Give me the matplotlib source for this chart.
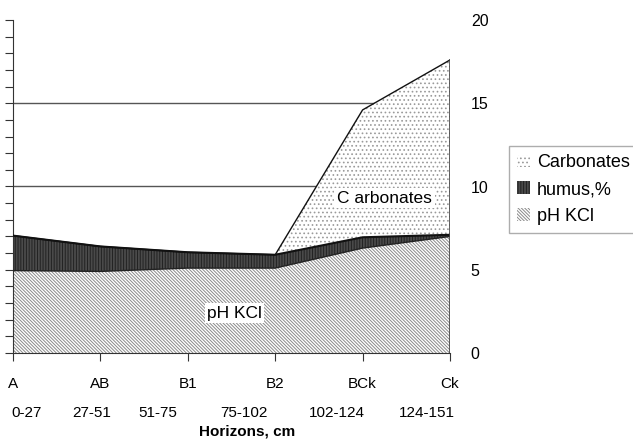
import numpy as np
import matplotlib
matplotlib.use("Agg")
from matplotlib import pyplot as plt

horizons = ['A', 'AB', 'B1', 'B2', 'BCk', 'Ck']
depths = ['0-27', '27-51', '51-75', '75-102', '102-124', '124-151']
ph_kcl = [4.95, 4.9, 5.1, 5.1, 6.3, 7.0]
humus = [2.1, 1.5, 0.95, 0.8, 0.65, 0.1]
carbonates = [0.0, 0.0, 0.0, 0.0, 7.65, 10.5]

plt.rcParams['font.family'] = ['Liberation Sans', 'DejaVu Sans']
plt.rcParams['hatch.linewidth'] = 0.7

fig = plt.figure(figsize=(6.33, 4.44), dpi=100)
ax = fig.add_axes([13/633, 1-353/444, 437/633, 333/444])

x = np.arange(len(horizons))
ph = np.array(ph_kcl)
hu = ph + np.array(humus)
ca = hu + np.array(carbonates)

# grid lines behind the areas
for g in [5, 10, 15]:
    ax.axhline(g, color='#555555', lw=1, zorder=0)

plt.rcParams['hatch.color'] = '#8a8a8a'
ax.fill_between(x, 0, ph, facecolor='white', edgecolor='#8a8a8a', hatch='\\' * 10, lw=0, zorder=1, label='pH KCl')
ax.fill_between(x, ph, hu, facecolor='#4a4a4a', edgecolor='#222222', hatch='|' * 6, lw=0, zorder=2, label='humus,%')
ax.fill_between(x, hu, ca, facecolor='white', edgecolor='#9a9a9a', hatch='....', lw=0, zorder=1.5, label='Carbonates')
ax.plot(x, ph, color='#222222', lw=1, zorder=3)
ax.plot(x, hu, color='#111111', lw=1.5, zorder=3)
ax.plot(x, ca, color='#111111', lw=1, zorder=3)
ax.plot([x[-1], x[-1]], [0, ca[-1]], color='#444444', lw=1.2, zorder=3)

ax.set_xlim(0, len(x) - 1)
ax.set_ylim(0, 20)
ax.set_xticks(x)
ax.set_xticklabels(horizons, fontsize=11)
ax.tick_params(axis='x', length=6, pad=11, color='#333333')
ax.set_yticks(np.arange(0, 21, 1))
ax.set_yticklabels([])
ax.tick_params(axis='y', length=6, color='#333333')
for s in ['top', 'right']:
    ax.spines[s].set_visible(False)
ax.spines['left'].set_color('#333333')
ax.spines['bottom'].set_color('#333333')

ax2 = ax.twinx()
ax2.set_ylim(0, 20)
ax2.set_yticks([0, 5, 10, 15, 20])
ax2.tick_params(axis='y', length=0, pad=15, labelsize=11.5)
for s in ax2.spines.values():
    s.set_visible(False)

# depth labels under the horizon names
depth_pos = [0.16, 0.9, 1.66, 2.64, 3.7, 4.74]
for d, p in zip(depths, depth_pos):
    ax.text(p, -0.18, d, transform=ax.get_xaxis_transform(), ha='center', va='center', fontsize=11)
ax.text(2.68, -0.237, 'Horizons, cm', transform=ax.get_xaxis_transform(), ha='center', va='center',
        fontsize=11, fontweight='bold')

ax.text(2.53, 2.4, 'pH KCl', ha='center', va='center', fontsize=12.5, zorder=5,
        bbox=dict(facecolor='white', edgecolor='none', pad=1.5))
ax.text(4.25, 9.3, 'C arbonates', ha='center', va='center', fontsize=12.5, zorder=5,
        bbox=dict(facecolor='white', edgecolor='none', pad=2))

handles, labels = ax.get_legend_handles_labels()
leg = fig.legend(handles[::-1], labels[::-1], loc='upper left', bbox_to_anchor=(500/633, 1-137/444),
                 fontsize=13, frameon=True, fancybox=False, edgecolor='#999999',
                 handlelength=0.7, handleheight=0.7, handletextpad=0.4, borderpad=0.45, labelspacing=0.55)
leg.get_frame().set_linewidth(1)

fig.savefig('out.png', dpi=100)
